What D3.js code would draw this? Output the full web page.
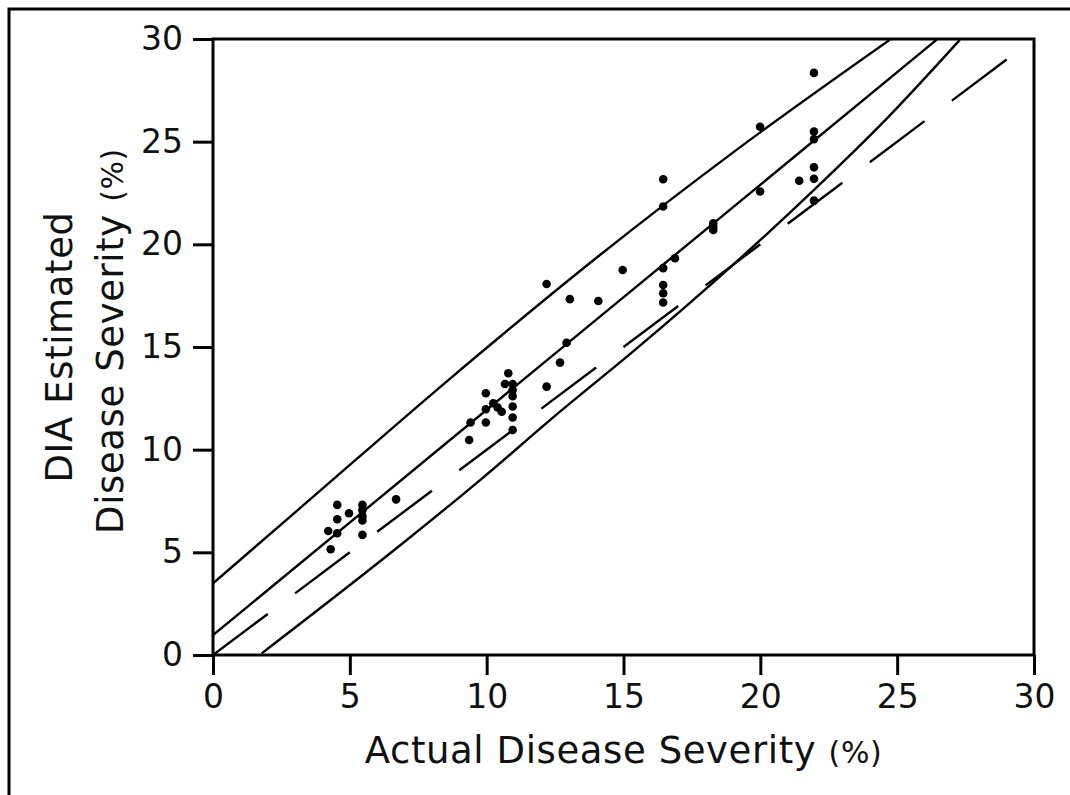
<!DOCTYPE html>
<html>
<head>
<meta charset="utf-8">
<script src="https://cdn.jsdelivr.net/npm/d3@7"></script>
<style>
  body { margin: 0; background: #fff; }
  text { font-family: "DejaVu Sans", sans-serif; fill: #111; }
</style>
</head>
<body>
<div id="viz"></div>
<script>
// observed points: actual vs DIA estimated severity (%)
const actual = [4.21, 4.30, 4.54, 4.54, 4.54, 4.97, 5.46, 5.46, 5.46, 5.46, 5.46, 6.69,
  9.36, 9.41, 9.97, 9.97, 9.97, 10.24, 10.4, 10.55, 10.79, 10.67, 10.95, 10.95, 10.95, 10.95, 10.95, 10.95,
  12.19, 12.68, 12.92, 12.19, 13.04, 14.08, 14.97,
  16.45, 16.45, 16.45, 16.45, 16.45, 16.45, 16.88,
  18.28, 18.28, 18.28, 19.99, 19.99, 21.42,
  21.96, 21.96, 21.96, 21.96, 21.96, 21.96];
const estimated = [6.04, 5.15, 7.31, 6.61, 5.93, 6.90, 7.31, 7.05, 6.75, 6.55, 5.85, 7.58,
  10.47, 11.32, 11.32, 11.97, 12.75, 12.26, 12.05, 11.85, 13.72, 13.2, 13.2, 12.9, 12.6, 12.1, 11.57, 10.96,
  13.07, 14.24, 15.21, 18.07, 17.33, 17.24, 18.75,
  23.17, 21.84, 18.84, 18.02, 17.62, 17.17, 19.32,
  21.03, 20.85, 20.70, 25.73, 22.57, 23.10,
  28.35, 25.49, 25.12, 23.75, 23.19, 22.13];

// fitted line and bands
const fitLine = [[0, 0.97], [14.14, 16.48], [26.44, 29.96]];
const upperBand = [[0, 3.49], [3.18, 7.15], [8.60, 13.39], [14.14, 19.48], [19.13, 24.6], [24.73, 29.96]];
const lowerBand = [[1.78, 0.08], [7.08, 5.60], [9.76, 8.52], [12.68, 11.85], [15.42, 14.86],
  [19.0, 19.0], [22.0, 22.7], [24.6, 26.1], [27.29, 29.96]];
const oneToOne = [[0, 0], [29, 29]];

const xTicks = [0, 5, 10, 15, 20, 25, 30];
const yTicks = [0, 5, 10, 15, 20, 25, 30];

const W = 1070, H = 795;
const margin = { top: 39, right: 36, bottom: 140, left: 213 };
const width = W - margin.left - margin.right,
  height = H - margin.top - margin.bottom;

const svg = d3.select("#viz").append("svg")
  .attr("width", W)
  .attr("height", H);

// outer frame (cut off at right/bottom)
svg.append("rect")
  .attr("x", 9).attr("y", 9)
  .attr("width", 1200).attr("height", 1200)
  .attr("fill", "none")
  .attr("stroke", "#000")
  .attr("stroke-width", 3);

const g = svg.append("g")
  .attr("transform", `translate(${margin.left},${margin.top})`);

const x = d3.scaleLinear().domain([0, 30]).range([0, width]);
const y = d3.scaleLinear().domain([0, 30]).range([height, 0]);

g.append("clipPath").attr("id", "plotclip")
  .append("rect").attr("width", width).attr("height", height);

const line = d3.line()
  .x(d => x(d[0]))
  .y(d => y(d[1]))
  .curve(d3.curveMonotoneX);

const lines = g.append("g").attr("clip-path", "url(#plotclip)");

[upperBand, fitLine, lowerBand].forEach(pts => {
  lines.append("path")
    .datum(pts)
    .attr("fill", "none")
    .attr("stroke", "#000")
    .attr("stroke-width", 2.4)
    .attr("d", line);
});

// 1:1 dashed line
const unitLen = Math.hypot(x(1) - x(0), y(0) - y(1));
lines.append("path")
  .datum(oneToOne)
  .attr("fill", "none")
  .attr("stroke", "#000")
  .attr("stroke-width", 2.4)
  .attr("stroke-dasharray", `${2 * unitLen} ${unitLen}`)
  .attr("d", d3.line().x(d => x(d[0])).y(d => y(d[1])));

g.append("g")
  .selectAll("circle")
  .data(d3.zip(actual, estimated))
  .join("circle")
  .attr("cx", d => x(d[0]))
  .attr("cy", d => y(d[1]))
  .attr("r", 4.3)
  .attr("fill", "#000");

// frame of the plot
g.append("rect")
  .attr("width", width).attr("height", height)
  .attr("fill", "none")
  .attr("stroke", "#000")
  .attr("stroke-width", 3);

const xAxis = g.append("g")
  .attr("transform", `translate(0,${height})`)
  .call(d3.axisBottom(x).tickValues(xTicks).tickSize(20).tickPadding(10).tickFormat(d3.format("d")));
const yAxis = g.append("g")
  .call(d3.axisLeft(y).tickValues(yTicks).tickSize(20).tickPadding(10).tickFormat(d3.format("d")));

[xAxis, yAxis].forEach(ax => {
  ax.select(".domain").remove();
  ax.selectAll("line").attr("stroke", "#000").attr("stroke-width", 3);
  ax.selectAll("text")
    .style("font-family", "'DejaVu Sans', sans-serif")
    .style("font-size", "33px")
    .attr("fill", "#111");
});

// axis titles
const xTitle = svg.append("text")
  .attr("x", margin.left + width / 2)
  .attr("y", 763)
  .attr("text-anchor", "middle")
  .style("font-size", "37px")
  .style("letter-spacing", "0.6px");
xTitle.append("tspan").text("Actual Disease Severity ");
xTitle.append("tspan").style("font-size", "30px").text("(%)");

const yTitle = svg.append("g")
  .attr("transform", `translate(72,${margin.top + height / 2}) rotate(-90)`);
yTitle.append("text")
  .attr("text-anchor", "middle")
  .style("font-size", "37px")
  .style("letter-spacing", "0.6px")
  .text("DIA Estimated");
const yTitle2 = yTitle.append("text")
  .attr("y", 51)
  .attr("x", 6)
  .attr("text-anchor", "middle")
  .style("font-size", "37px")
  .style("letter-spacing", "0.6px");
yTitle2.append("tspan").text("Disease Severity ");
yTitle2.append("tspan").style("font-size", "30px").text("(%)");
</script>
</body>
</html>
